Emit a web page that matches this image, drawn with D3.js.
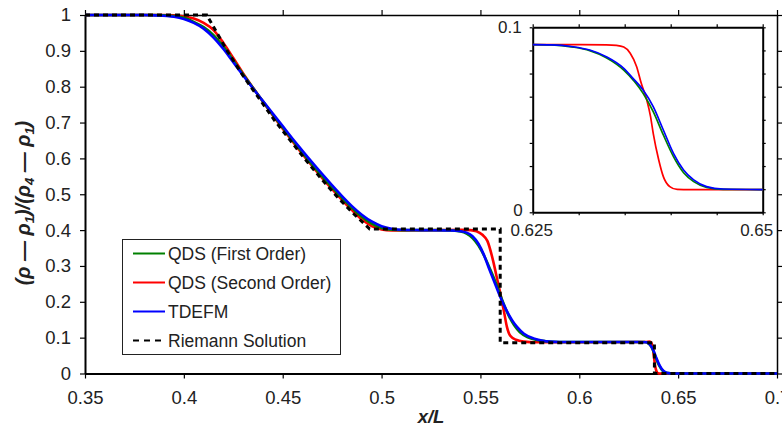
<!DOCTYPE html>
<html>
<head>
<meta charset="utf-8">
<script src="https://d3js.org/d3.v7.min.js"></script>
<style>
  body { margin: 0; background: #fff; }
  svg text { font-family: Arial, "Liberation Sans", sans-serif; fill: #222; }
  .axis path, .axis line { stroke: #000; }
</style>
</head>
<body>
<script>
// main chart values
var xTicks = [0.35, 0.4, 0.45, 0.5, 0.55, 0.6, 0.65, 0.7];
var xTickLabels = ["0.35", "0.4", "0.45", "0.5", "0.55", "0.6", "0.65", "0.7"];
var yTicks = [0, 0.1, 0.2, 0.3, 0.4, 0.5, 0.6, 0.7, 0.8, 0.9, 1];
var yTickLabels = ["0", "0.1", "0.2", "0.3", "0.4", "0.5", "0.6", "0.7", "0.8", "0.9", "1"];

var seriesNames = ["QDS (First Order)", "QDS (Second Order)", "TDEFM", "Riemann Solution"];

var qdsFirst = [[0.35,1],[0.385,1],[0.395,0.997],[0.4,0.992],[0.405,0.981],[0.41,0.966],[0.415,0.944],[0.42,0.912],[0.425,0.873],[0.43,0.834],[0.435,0.796],[0.44,0.759],[0.445,0.722],[0.45,0.686],[0.455,0.651],[0.46,0.616],[0.465,0.582],[0.47,0.55],[0.475,0.519],[0.48,0.49],[0.485,0.462],[0.49,0.437],[0.495,0.418],[0.5,0.406],[0.505,0.401],[0.51,0.4],[0.52,0.4],[0.53,0.4],[0.535,0.399],[0.54,0.396],[0.543,0.39],[0.546,0.378],[0.549,0.357],[0.552,0.327],[0.555,0.29],[0.558,0.25],[0.561,0.205],[0.564,0.165],[0.567,0.135],[0.57,0.115],[0.574,0.101],[0.578,0.094],[0.583,0.09],[0.59,0.088],[0.62,0.088],[0.633,0.088],[0.635,0.084],[0.6365,0.074],[0.6375,0.062],[0.6385,0.047],[0.6395,0.033],[0.6405,0.021],[0.6415,0.012],[0.643,0.004],[0.645,0.001],[0.647,0],[0.7,0]];

var qdsSecond = [[0.35,1],[0.39,1],[0.395,0.999],[0.4,0.996],[0.405,0.99],[0.41,0.978],[0.415,0.958],[0.42,0.922],[0.425,0.88],[0.43,0.837],[0.435,0.797],[0.44,0.758],[0.445,0.72],[0.45,0.683],[0.455,0.647],[0.46,0.612],[0.465,0.578],[0.47,0.545],[0.475,0.514],[0.48,0.484],[0.485,0.456],[0.49,0.43],[0.495,0.411],[0.5,0.402],[0.505,0.399],[0.51,0.399],[0.53,0.4],[0.54,0.401],[0.545,0.4],[0.548,0.397],[0.551,0.387],[0.5535,0.37],[0.5566,0.31],[0.558,0.275],[0.56,0.225],[0.562,0.17],[0.5634,0.13],[0.5651,0.105],[0.568,0.094],[0.572,0.089],[0.578,0.087],[0.6,0.087],[0.634,0.088],[0.6355,0.089],[0.6365,0.085],[0.6372,0.07],[0.6378,0.045],[0.6384,0.02],[0.639,0.007],[0.6398,0.001],[0.641,0],[0.7,0]];

var tdefm = [[0.35,1],[0.38,1],[0.385,0.999],[0.395,0.995],[0.4,0.989],[0.405,0.978],[0.41,0.962],[0.415,0.937],[0.42,0.905],[0.425,0.868],[0.43,0.831],[0.435,0.795],[0.44,0.76],[0.445,0.725],[0.45,0.69],[0.455,0.655],[0.46,0.621],[0.465,0.588],[0.47,0.556],[0.475,0.525],[0.48,0.495],[0.485,0.467],[0.49,0.443],[0.495,0.424],[0.5,0.411],[0.505,0.404],[0.51,0.401],[0.52,0.4],[0.535,0.399],[0.54,0.397],[0.543,0.393],[0.546,0.383],[0.549,0.362],[0.5516,0.333],[0.554,0.298],[0.557,0.256],[0.56,0.214],[0.563,0.178],[0.566,0.149],[0.5685,0.13],[0.572,0.111],[0.5769,0.098],[0.581,0.092],[0.585,0.089],[0.59,0.088],[0.63,0.088],[0.634,0.087],[0.6355,0.082],[0.637,0.07],[0.638,0.058],[0.639,0.043],[0.64,0.03],[0.641,0.019],[0.642,0.011],[0.6435,0.004],[0.645,0.001],[0.647,0],[0.7,0]];

var riemann = [[0.35,1],[0.4116,1],[0.4217,0.902],[0.43,0.83],[0.4386,0.763],[0.446,0.705],[0.4537,0.651],[0.462,0.593],[0.47,0.54],[0.478,0.49],[0.486,0.445],[0.494,0.403],[0.56,0.403],[0.56,0.086],[0.638,0.086],[0.638,0],[0.7,0]];

// inset values
var insetXTicks = [0.625, 0.63, 0.635, 0.64, 0.645, 0.65];
var insetYTicks = [0, 0.0125, 0.025, 0.0375, 0.05, 0.0625, 0.075, 0.0875, 0.1];

var insetFirst = [[0.625,0.0906],[0.627,0.0905],[0.6294,0.0893],[0.6312,0.0874],[0.633,0.0836],[0.6349,0.0769],[0.637,0.0643],[0.6381,0.0544],[0.6392,0.0418],[0.6403,0.0301],[0.6414,0.0214],[0.6425,0.0166],[0.6439,0.0135],[0.6457,0.0124],[0.65,0.0123]];
var insetSecond = [[0.625,0.0906],[0.63,0.0906],[0.633,0.0905],[0.6341,0.0902],[0.6349,0.0893],[0.6356,0.086],[0.6363,0.0787],[0.6368,0.0697],[0.6374,0.0607],[0.6378,0.052],[0.6381,0.0427],[0.6387,0.0283],[0.6392,0.0193],[0.6399,0.0139],[0.6407,0.0124],[0.6421,0.0123],[0.65,0.0123]];
var insetTdefm = [[0.625,0.0906],[0.627,0.0905],[0.6294,0.0895],[0.6312,0.0877],[0.633,0.0841],[0.6349,0.0778],[0.6359,0.0724],[0.637,0.0661],[0.6381,0.0571],[0.6392,0.0445],[0.6403,0.0319],[0.6414,0.0229],[0.6425,0.0175],[0.6439,0.0139],[0.6457,0.0126],[0.65,0.0123]];

var colors = ["#008000", "#ff0000", "#0000ff", "#000"];

var svg = d3.select("body").append("svg")
  .attr("width", 782)
  .attr("height", 427);

var x = d3.scaleLinear().domain([0.35, 0.7]).range([85, 777]);
var y = d3.scaleLinear().domain([0, 1]).range([373.5, 15]);

function styleAxis(g, w, fs) {
  g.attr("class", "axis");
  g.select(".domain").attr("stroke-width", w);
  g.selectAll(".tick line").attr("stroke-width", 1.2);
  g.selectAll("text").style("font-size", fs + "px").attr("fill", "#222");
}

// main axes
svg.append("g")
  .attr("transform", "translate(0,373.5)")
  .call(d3.axisBottom(x).tickValues(xTicks).tickSize(5).tickPadding(12).tickSizeOuter(0)
    .tickFormat(function(d, i) { return xTickLabels[i]; }))
  .call(styleAxis, 2, 18.5);

svg.append("g")
  .attr("transform", "translate(0,15)")
  .call(d3.axisTop(x).tickValues(xTicks).tickSize(5).tickSizeOuter(0).tickFormat(""))
  .call(styleAxis, 1.5, 18);

svg.append("g")
  .attr("transform", "translate(85,0)")
  .call(d3.axisLeft(y).tickValues(yTicks).tickSize(5).tickPadding(9).tickSizeOuter(0)
    .tickFormat(function(d, i) { return yTickLabels[i]; }))
  .call(styleAxis, 2, 18.5);

svg.append("g")
  .attr("transform", "translate(777,0)")
  .call(d3.axisRight(y).tickValues(yTicks).tickSize(5).tickSizeOuter(0).tickFormat(""))
  .call(styleAxis, 1.5, 18);

// curves
var smooth = d3.line().x(function(d) { return x(d[0]); }).y(function(d) { return y(d[1]); })
  .curve(d3.curveMonotoneX);
var straight = d3.line().x(function(d) { return x(d[0]); }).y(function(d) { return y(d[1]); });

var mainSeries = [qdsFirst, qdsSecond, tdefm];
[1, 0, 2].forEach(function(i) {
  svg.append("path").datum(mainSeries[i])
    .attr("d", smooth)
    .attr("fill", "none")
    .attr("stroke", colors[i])
    .attr("stroke-width", 2.6);
});

svg.append("path").datum(riemann)
  .attr("d", straight)
  .attr("fill", "none")
  .attr("stroke", "#000")
  .attr("stroke-width", 3)
  .attr("stroke-dasharray", "5,4");

// axis titles
svg.append("text")
  .attr("x", 431).attr("y", 423)
  .attr("text-anchor", "middle")
  .style("font-size", "18.5px").style("font-weight", "bold").style("font-style", "italic")
  .text("x/L");

var yt = svg.append("text")
  .attr("transform", "translate(30,203) rotate(-90)")
  .attr("text-anchor", "middle")
  .style("font-size", "20px").style("font-weight", "bold").style("font-style", "italic");
var parts = [["(\u03c1 \u2014 \u03c1", false], ["1", true], [")/(\u03c1", false], ["4", true],
             [" \u2014 \u03c1", false], ["1", true], [")", false]];
var shifted = false;
parts.forEach(function(p) {
  var t = yt.append("tspan").text(p[0]);
  if (p[1]) { t.attr("dy", 4).style("font-size", "13px"); shifted = true; }
  else if (shifted) { t.attr("dy", -4); shifted = false; }
});

// legend
var lg = svg.append("g");
lg.append("rect")
  .attr("x", 122.5).attr("y", 239.5).attr("width", 218).attr("height", 115)
  .attr("fill", "#fff").attr("stroke", "#222").attr("stroke-width", 1);
seriesNames.forEach(function(name, i) {
  var ly = 253.5 + i * 29;
  lg.append("line")
    .attr("x1", 133).attr("x2", 165).attr("y1", ly).attr("y2", ly)
    .attr("stroke", colors[i])
    .attr("stroke-width", 2)
    .attr("stroke-dasharray", i === 3 ? "6,5" : null);
  lg.append("text")
    .attr("x", 168).attr("y", ly + 6)
    .style("font-size", "17.5px")
    .text(name);
});

// inset
var ix = d3.scaleLinear().domain([0.625, 0.65]).range([532.7, 762.7]);
var iy = d3.scaleLinear().domain([0, 0.1]).range([212.3, 27.3]);

var inset = svg.append("g");
inset.append("rect")
  .attr("x", ix(0.625)).attr("y", iy(0.1))
  .attr("width", ix(0.65) - ix(0.625)).attr("height", iy(0) - iy(0.1))
  .attr("fill", "#fff");

inset.append("g").attr("transform", "translate(0," + iy(0) + ")")
  .call(d3.axisBottom(ix).tickValues(insetXTicks).tickSize(3).tickSizeOuter(0).tickFormat(""))
  .call(styleAxis, 2, 17);
inset.append("g").attr("transform", "translate(0," + iy(0.1) + ")")
  .call(d3.axisTop(ix).tickValues(insetXTicks).tickSize(3).tickSizeOuter(0).tickFormat(""))
  .call(styleAxis, 2, 17);
inset.append("g").attr("transform", "translate(" + ix(0.625) + ",0)")
  .call(d3.axisLeft(iy).tickValues(insetYTicks).tickSize(3).tickSizeOuter(0).tickFormat(""))
  .call(styleAxis, 2, 17);
inset.append("g").attr("transform", "translate(" + ix(0.65) + ",0)")
  .call(d3.axisRight(iy).tickValues(insetYTicks).tickSize(3).tickSizeOuter(0).tickFormat(""))
  .call(styleAxis, 2, 17);

var ismooth = d3.line().x(function(d) { return ix(d[0]); }).y(function(d) { return iy(d[1]); })
  .curve(d3.curveMonotoneX);
var insetSeries = [insetFirst, insetSecond, insetTdefm];
[1, 0, 2].forEach(function(i) {
  inset.append("path").datum(insetSeries[i])
    .attr("d", ismooth)
    .attr("fill", "none")
    .attr("stroke", colors[i])
    .attr("stroke-width", 1.7);
});

// inset labels, only at the ends
inset.append("text").attr("x", ix(0.625) - 11).attr("y", iy(0.1) + 6)
  .attr("text-anchor", "end").style("font-size", "17px").text("0.1");
inset.append("text").attr("x", ix(0.625) - 10).attr("y", iy(0) + 4)
  .attr("text-anchor", "end").style("font-size", "17px").text("0");
inset.append("text").attr("x", ix(0.625) - 1).attr("y", 236)
  .attr("text-anchor", "middle").style("font-size", "17px").text("0.625");
inset.append("text").attr("x", ix(0.65) - 6).attr("y", 236)
  .attr("text-anchor", "middle").style("font-size", "17px").text("0.65");
</script>
</body>
</html>
